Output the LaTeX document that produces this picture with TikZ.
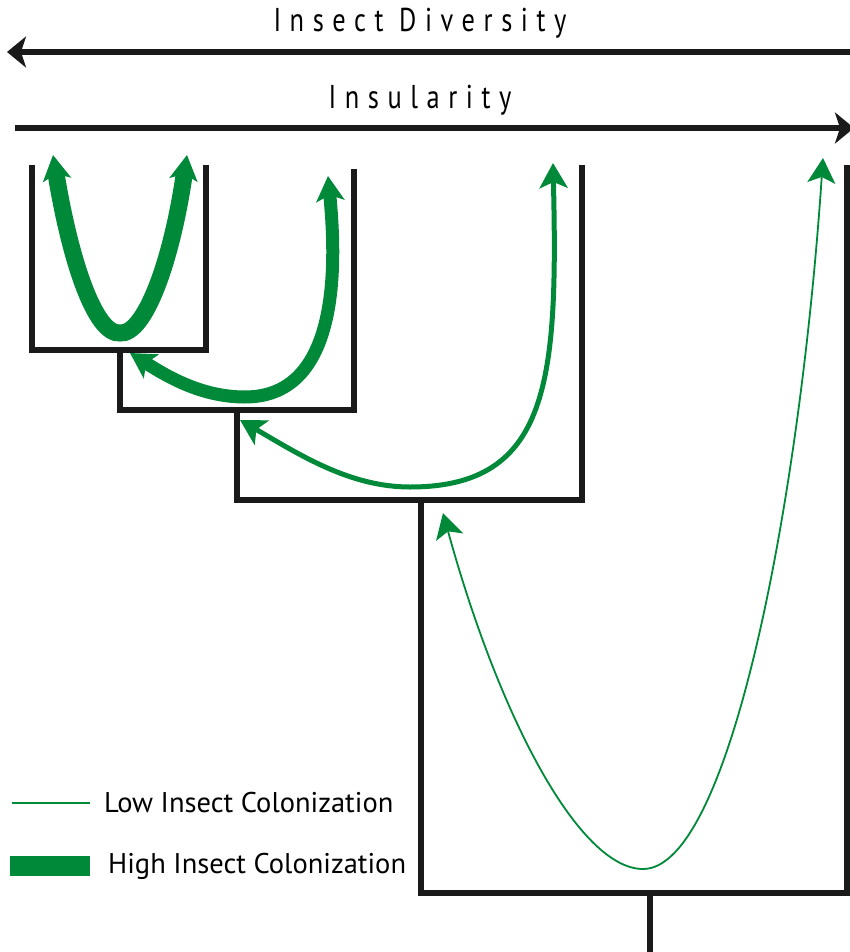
\documentclass[tikz,border=0pt]{standalone}
\usepackage{fontspec}
\setmainfont{PT Sans}
\newfontfamily\axisfont[LetterSpace=26,FakeStretch=0.8]{PT Sans}
\usetikzlibrary{arrows.meta,positioning}
\definecolor{leafgreen}{RGB}{0,137,57}
\definecolor{inkblack}{RGB}{26,26,26}
\tikzset{
  tree/.style={draw=inkblack,line width=6pt},
  axis/.style={draw=inkblack,line width=5.5pt,-{Stealth[length=19pt,width=31pt,inset=5pt]}},
  axislabel/.style={font=\axisfont\fontsize{33}{38}\selectfont,inner sep=0pt},
  colon/.style={draw=leafgreen,
    {Stealth[length=25pt,width=28pt,inset=6pt]}-{Stealth[length=25pt,width=28pt,inset=6pt]}},
  legend/.style={font=\fontsize{28.5}{33}\selectfont,inner sep=0pt,anchor=west}
}
\begin{document}
\begin{tikzpicture}[x=1pt,y=-1pt]
\useasboundingbox (0,0) rectangle (850,952);
% axes
\node[axislabel] (diversity) at (420,23) {Insect Diversity};
\node[axislabel] (insularity) at (420,100) {Insularity};
\coordinate (divR) at (852,52);
\coordinate (divL) at (7,52);
\draw[axis] (divR) -- (divL);
\coordinate (insL) at (15,128);
\coordinate (insR) at (854,128);
\draw[axis] (insL) -- (insR);
% tree
\draw[tree] (32,165) |- (206,350) -- (206,165);
\draw[tree] (120,350) |- (354,410) -- (354,169);
\draw[tree] (237,410) |- (582,500) -- (582,165);
\draw[tree] (421,500) |- (847,893) -- (847,165);
\draw[tree] (650,893) -- (650,955);
% colonization paths
\draw[colon,line width=17pt] (53,155) .. controls (70,260) and (95,335) .. (120,333)
  .. controls (145,335) and (172,260) .. (187,155);
\draw[colon,line width=13pt] (130,353) .. controls (165,375) and (200,397) .. (245,397)
  .. controls (345,397) and (335,250) .. (328,176);
\draw[colon,line width=5pt] (240,420) .. controls (300,455) and (350,487) .. (410,487)
  .. controls (550,487) and (558,380) .. (553,163);
\draw[colon,line width=1.8pt] (443,513) .. controls (500,720) and (580,869) .. (643,869)
  .. controls (730,869) and (800,500) .. (823,158);
% legend
\coordinate (lowA) at (12,803);
\coordinate (lowB) at (90,803);
\draw[leafgreen,line width=2pt] (lowA) -- (lowB);
\node[legend,right=14pt of lowB] (lowtxt) {Low Insect Colonization};
\coordinate (highA) at (10,866);
\coordinate (highB) at (90,866);
\draw[leafgreen,line width=20pt] (highA) -- (highB);
\node[legend,right=18pt of highB] (hightxt) {High Insect Colonization};
\end{tikzpicture}
\end{document}
